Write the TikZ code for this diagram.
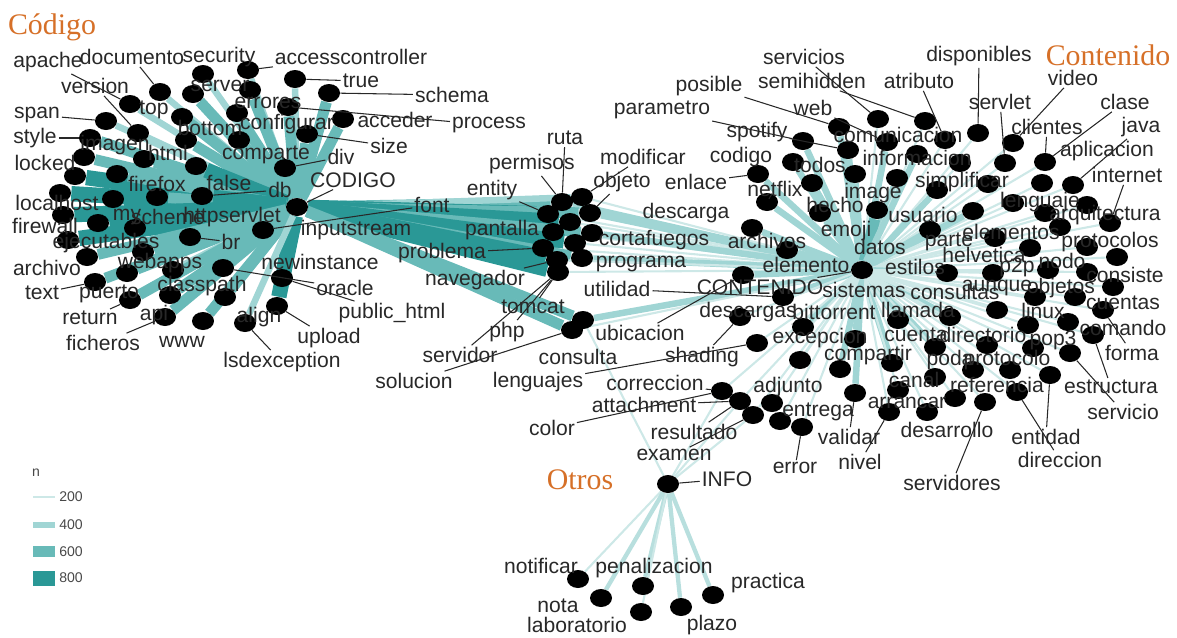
\documentclass[tikz,border=0pt]{standalone}
\usepackage{fontspec}
\setmainfont{Liberation Sans}
\newfontfamily\titlefont{Liberation Serif}
\usetikzlibrary{shapes.geometric}

\definecolor{w2}{RGB}{205,232,231}
\definecolor{w3}{RGB}{184,223,222}
\definecolor{w4}{RGB}{160,213,212}
\definecolor{w6}{RGB}{104,186,184}
\definecolor{w8}{RGB}{42,152,150}
\definecolor{txt}{RGB}{40,40,40}
\definecolor{ttlorange}{RGB}{214,112,40}

\pgfdeclarelayer{bg}
\pgfsetlayers{bg,main}

\tikzset{
    wdot/.style={ellipse, fill=black, minimum width=0.44cm, minimum height=0.36cm, inner sep=0pt},
    lbl/.style={inner sep=1pt, text=txt, font=\fontsize{12}{13}\selectfont},
    ttl/.style={inner sep=0pt, text=ttlorange, font=\titlefont\fontsize{17}{19}\selectfont},
    leg/.style={inner sep=0pt, text=txt!85, font=\fontsize{8}{9}\selectfont},
    lead/.style={draw=txt, line width=0.6pt},
    lnk/.style={draw=w#1, line width={(1.25*#1-1.3)*1pt}},
}

\begin{document}
\begin{tikzpicture}[x=0.02cm, y=-0.02cm]

    \useasboundingbox (0,0) rectangle (1177,637);

    % the three hubs
    \node[wdot] (codigo) at (297,207) {};
    \node[wdot] (contenido) at (862,270) {};
    \node[wdot] (info) at (668,484) {};

    % words of the codigo cluster
    \foreach \n/\x/\y/\w in {a1/203/74/4, a2/248/70/4, a3/295/79/4, a4/160/92/4, a5/193/94/6, a6/250/90/6,
        a7/130/104/4, a8/182/117/6, a9/237/113/6, a10/288/107/6, a11/106/121/4, a12/138/133/4,
        a13/186/140/6, a14/239/140/6, a15/90/138/6, a16/84/157/6, a17/144/159/6, a18/196/166/8,
        a19/285/168/6, a20/75/176/8, a21/117/174/6, a22/60/193/8, a23/113/199/8, a24/157/197/6,
        a25/202/196/8, a26/329/93/6, a27/343/119/6, a28/307/134/6, a29/63/215/8, a30/98/223/8,
        a31/135/228/6, a32/190/237/6, a33/263/230/8, a34/68/240/8, a35/143/252/6, a36/87/257/6,
        a37/127/273/6, a38/173/270/4, a39/223/268/4, a40/282/278/8, a41/95/282/6, a42/130/300/6,
        a43/170/295/6, a44/225/297/6, a45/277/306/8, a46/165/317/6, a47/203/321/6, a48/245/323/4} {
        \node[wdot] (\n) at (\x,\y) {};
        \begin{pgfonlayer}{bg}
            \path[lnk=\w] (codigo) -- (\n);
        \end{pgfonlayer}
    }

    % words shared by codigo and contenido
    \foreach \n/\x/\y/\w/\v in {b1/562/202/6/4, b2/582/197/4/2, b3/548/214/8/2, b4/590/213/6/4,
        b5/570/222/8/2, b6/553/232/8/2, b7/592/233/6/4, b8/575/243/8/2, b9/543/248/8/2,
        b10/582/258/6/4, b11/557/260/8/2, b12/558/272/8/2, b13/583/320/6/4, b14/572/330/6/2} {
        \node[wdot] (\n) at (\x,\y) {};
        \begin{pgfonlayer}{bg}
            \path[lnk=\v] (contenido) -- (\n);
            \path[lnk=\w] (codigo) -- (\n);
        \end{pgfonlayer}
    }

    % words of the contenido cluster
    \foreach \n/\x/\y/\w in {c1/878/119/2, c2/839/127/4, c3/887/142/4, c4/803/141/4, c5/848/150/4,
        c6/793/162/4, c7/758/174/4, c8/855/174/4, c9/812/183/4, c10/897/178/4, c11/767/202/4,
        c12/820/213/4, c13/877/210/6, c14/752/228/4, c15/925/121/2, c16/945/140/2, c17/978/133/2,
        c18/917/154/4, c19/960/163/2, c20/1013/143/2, c21/1005/163/2, c22/1045/162/2, c23/937/190/4,
        c24/988/184/2, c25/1042/183/2, c26/1073/185/2, c27/973/211/4, c28/1013/203/2, c29/1045/213/2,
        c30/1087/205/2, c31/1110/223/2, c32/1060/227/2, c33/930/230/4, c34/995/238/2, c35/1030/248/2,
        c36/1087/247/2, c37/1117/257/2, c38/947/273/4, c39/993/273/2, c40/1048/270/2, c41/1087/272/2,
        c42/1113/287/2, c43/1035/297/2, c44/1075/297/2, c45/997/310/2, c46/1103/310/2, c47/950/317/4,
        c48/898/320/4, c49/1028/325/2, c50/1068/322/2, c51/1093/335/2, c52/935/347/4, c53/987/345/2,
        c54/1033/348/2, c55/1070/353/2, c56/892/363/4, c57/973/370/2, c58/1010/370/2, c59/1050/375/2,
        c60/935/377/2, c61/898/390/2, c62/855/393/4, c63/955/398/2, c64/1017/392/2, c65/985/402/2,
        c66/889/412/2, c67/927/412/2, c68/787/250/4, c69/743/275/4, c70/783/297/4, c71/740/317/2,
        c72/803/327/4, c73/757/343/2, c74/855/339/4, c75/800/360/2, c76/840/369/4, c77/722/391/2,
        c78/740/401/2, c79/772/403/2, c80/753/415/2, c81/780/421/2, c82/802/427/2} {
        \node[wdot] (\n) at (\x,\y) {};
        \begin{pgfonlayer}{bg}
            \path[lnk=\w] (contenido) -- (\n);
        \end{pgfonlayer}
    }

    % words of the info cluster
    \foreach \n/\x/\y/\w in {d1/578/579/2, d2/643/586/3, d3/601/598/3, d4/713/595/3, d5/681/607/3, d6/641/612/2} {
        \node[wdot] (\n) at (\x,\y) {};
        \begin{pgfonlayer}{bg}
            \path[lnk=\w] (info) -- (\n);
        \end{pgfonlayer}
    }
    \begin{pgfonlayer}{bg}
        \foreach \n in {b13, c77, c78, c80}
            \path[lnk=2] (info) -- (\n);
    \end{pgfonlayer}

    % labels
    \foreach \n/\x/\y in {apache/48/62, documento/132/57, security/219/57, accesscontroller/351/57,
        version/95/86, true/361/81, schema/452/95, server/220/86, top/154/110, errores/268/103,
        configurar/287/124, acceder/395/120, process/489/125, span/37/115, bottom/210/128, size/389/146,
        style/35/138, imagen/115/145, html/168/153, comparte/266/155, div/341/157, locked/45/163,
        firefox/157/184, false/229/183, db/280/190, localhost/57/203, my/127/217, scheme/168/217,
        httpservlet/232/217, inputstream/356/230, font/432/205, firewall/45/226, ejecutables/106/243,
        br/231/242, newinstance/320/262, archivo/47/268, webapps/160/263, oracle/345/288, text/42/293,
        puerto/109/294, classpath/202/286, return/90/318, api/154/315, align/259/317, upload/329/338,
        ficheros/103/343, www/182/342, lsdexception/282/362,
        ruta/565/138, permisos/532/164, modificar/643/157, entity/492/190, objeto/622/182,
        pantalla/502/230, descarga/686/213, cortafuegos/654/240, archivos/767/241, problema/442/253,
        programa/641/264, navegador/475/280, utilidad/617/289, tomcat/533/307, php/507/332,
        ubicacion/640/333, servidor/460/355, consulta/578/357, solucion/414/381, lenguajes/538/382,
        servicios/804/57, disponibles/979/56, posible/709/86, semihidden/812/81, atributo/919/81,
        video/1073/78, parametro/662/110, web/813/108, servlet/1000/102, clase/1125/102,
        spotify/757/132, comunicacion/898/135, clientes/1047/127, java/1141/127, codigo/741/157,
        todos/820/165, informacion/917/158, aplicacion/1107/151, enlace/696/182, netflix/775/189,
        image/873/193, simplificar/962/182, internet/1127/175, hecho/835/205, usuario/923/215,
        lenguaje/1040/202, arquitectura/1105/215, emoji/846/231, datos/880/247, parte/949/242,
        elementos/1011/232, protocolos/1110/242, helvetica/984/255, estilos/915/267, p2p/1017/267,
        nodo/1062/261, elemento/806/265, consiste/1125/275, sistemas/864/290, consultas/955/292,
        aunque/997/288, objetos/1061/288, cuentas/1123/303, llamada/918/310, bittorrent/834/312,
        linux/1043/311, comando/1123/328, descargas/748/312, cuenta/916/335, directorio/983/335,
        pop3/1053/340, excepcion/820/338, forma/1132/353, shading/702/357, compartir/868/355,
        poda/950/360, protocolo/1007/360, correccion/655/383, canal/914/380, referencia/997/385,
        estructura/1111/387, adjunto/788/387, attachment/644/405, entrega/818/412, arrancar/907/403,
        servicio/1123/412, color/552/428, resultado/694/432, validar/849/437, desarrollo/947/430,
        entidad/1046/437, examen/674/455, nivel/860/462, error/795/468, direccion/1060/460,
        servidores/952/483,
        notificar/541/566, penalizacion/654/568, practica/768/583, nota/558/606,
        laboratorio/577/625, plazo/712/625}
        \node[lbl] (t-\n) at (\x,\y) {\n};
    \node[lbl] (t-public) at (392,313) {public\_html};
    \node[lbl] (t-CODIGO) at (353,180) {CODIGO};
    \node[lbl] (t-CONTENIDO) at (760,287) {CONTENIDO};
    \node[lbl] (t-INFO) at (727,479) {INFO};

    % leader lines
    \foreach \a/\b in {apache/a7, documento/a4, accesscontroller/a2, version/a12, true/a3, schema/a26,
        process/a10, size/a28, span/a11, style/a15, div/a19, db/a25, CODIGO/codigo, font/a33, br/a32,
        public/a40, oracle/a39, upload/a45, lsdexception/a48, text/a41, return/a42, ficheros/a46,
        ruta/b1, permisos/b1, entity/b3, modificar/b2, objeto/b4, problema/b9, navegador/b11,
        tomcat/b12, php/b12, servidor/b12, solucion/b14, utilidad/c70, ubicacion/c69,
        CONTENIDO/contenido, descargas/c72, shading/c71, lenguajes/c73, correccion/c77, color/c77,
        attachment/c78, resultado/c78, examen/c80, error/c82, validar/c62, nivel/c66,
        servidores/c65, direccion/c64, entidad/c59, servicio/c55, estructura/c51, forma/c46,
        servicios/c1, semihidden/c15, posible/c2, web/c3, parametro/c4, spotify/c5, atributo/c16,
        disponibles/c17, servlet/c21, video/c20, clientes/c22, clase/c22, java/c26, internet/c31,
        enlace/c7, netflix/c11, INFO/info}
        \path[lead] (t-\a) -- (\b);

    % cluster titles
    \node[ttl] (tcod) at (52,27) {Código};
    \node[ttl] (tcont) at (1108,55) {Contenido};
    \node[ttl] (totr) at (580,480) {Otros};

    % legend
    \node[leg] (legn) at (36,473) {n};
    \path[draw=w2, line width=1.2pt] (33,497) -- (55,497);
    \path[fill=w4] (33,522) rectangle (55,528);
    \path[fill=w6] (33,546) rectangle (55,557);
    \path[fill=w8] (33,571) rectangle (55,586);
    \foreach \v/\y in {200/497, 400/525, 600/552, 800/578}
        \node[leg] (leg\v) at (71,\y) {\v};

\end{tikzpicture}
\end{document}
